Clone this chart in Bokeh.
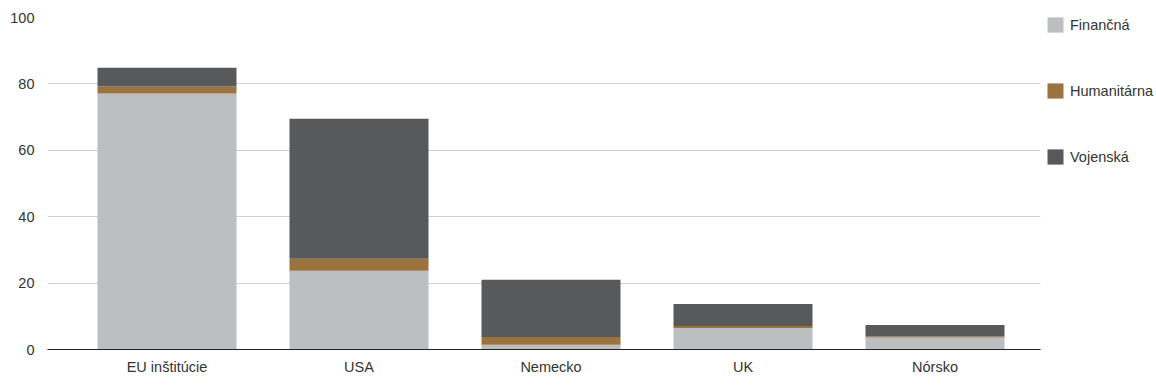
from bokeh.plotting import figure
from bokeh.models import Range1d, FixedTicker, Legend, LegendItem, ColumnDataSource
from bokeh.embed import file_html
from bokeh.resources import INLINE

categories = ["EU inštitúcie", "USA", "Nemecko", "UK", "Nórsko"]
financna = [77.1, 23.7, 1.4, 6.5, 3.6]
humanitarna = [2.1, 3.6, 2.4, 0.6, 0.3]
vojenska = [5.7, 42.2, 17.2, 6.6, 3.5]
series_names = ["Finančná", "Humanitárna", "Vojenská"]
colors = ["#bdbec0", "#9b733e", "#58595b"]
y_ticks = [0, 20, 40, 60, 80, 100]

FONT = "Liberation Sans"
FS = "14.5px"
TEXT = "#333333"

xs = list(range(len(categories)))
src = ColumnDataSource(dict(x=xs, Finančná=financna, Humanitárna=humanitarna, Vojenská=vojenska))

p = figure(frame_width=993, frame_height=332, output_backend="svg", toolbar_location=None,
           x_range=Range1d(-0.6224, 4.5495), y_range=Range1d(0, 100),
           min_border_left=47, min_border_top=17, min_border_bottom=38, min_border_right=0)
p.outline_line_color = None

rs = p.vbar_stack(series_names, x="x", width=0.724, source=src, color=colors, line_color=None)

p.xaxis.ticker = FixedTicker(ticks=xs)
p.xaxis.major_label_overrides = {i: c for i, c in enumerate(categories)}
p.xaxis.major_tick_line_color = None
p.xaxis.minor_tick_line_color = None
p.xaxis.major_tick_out = 0
p.xaxis.minor_tick_out = 0
p.xaxis.axis_line_color = "#222222"
p.xaxis.axis_line_width = 1
p.xaxis.major_label_standoff = 9
p.xaxis.major_label_text_font = FONT
p.xaxis.major_label_text_font_size = FS
p.xaxis.major_label_text_color = TEXT
p.xgrid.grid_line_color = None

p.yaxis.ticker = FixedTicker(ticks=y_ticks)
p.yaxis.axis_line_color = None
p.yaxis.major_tick_line_color = None
p.yaxis.minor_tick_line_color = None
p.yaxis.major_tick_out = 0
p.yaxis.minor_tick_out = 0
p.yaxis.major_label_standoff = 13
p.yaxis.major_label_text_font = FONT
p.yaxis.major_label_text_font_size = FS
p.yaxis.major_label_text_color = TEXT
p.ygrid.grid_line_color = "#d0d0d0"
p.ygrid.grid_line_width = 1

legend = Legend(items=[LegendItem(label=n, renderers=[r]) for n, r in zip(series_names, rs)],
                location=(5, 183))
legend.glyph_width = 20
legend.glyph_height = 19
legend.label_height = 19
legend.spacing = 47
legend.label_standoff = 5
legend.padding = 0
legend.margin = 0
legend.border_line_alpha = 0
legend.background_fill_alpha = 0
legend.label_text_font = FONT
legend.label_text_font_size = FS
legend.label_text_color = TEXT
p.add_layout(legend, "right")

open("out.html", "w").write(file_html(p, INLINE))
